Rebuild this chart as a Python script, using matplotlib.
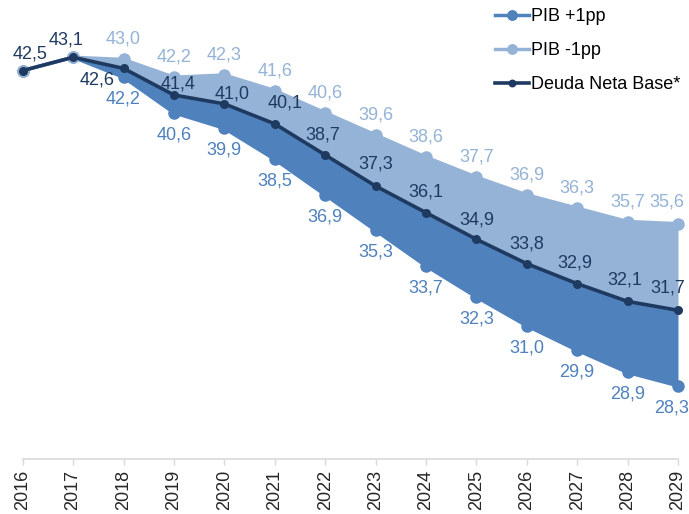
import matplotlib
matplotlib.use("Agg")
import matplotlib.pyplot as plt

plt.rcParams['font.family'] = ['Liberation Sans', 'DejaVu Sans']

years = list(range(2016, 2030))
base = [42.5, 43.1, 42.6, 41.4, 41.0, 40.1, 38.7, 37.3, 36.1, 34.9, 33.8, 32.9, 32.1, 31.7]
pib_up = [42.5, 43.1, 42.2, 40.6, 39.9, 38.5, 36.9, 35.3, 33.7, 32.3, 31.0, 29.9, 28.9, 28.3]
pib_down = [42.5, 43.1, 43.0, 42.2, 42.3, 41.6, 40.6, 39.6, 38.6, 37.7, 36.9, 36.3, 35.7, 35.6]

C_BASE = "#1f3a60"
C_UP = "#4f81bd"
C_DOWN = "#95b3d7"
FS = 13

# label offsets in pixels (dx, dy), picked to match the original layout
base_off = [(7, 17), (-7, 17), (-26, -12), (4, 11), (8, 10), (10, 21), (-2, 20),
            (0, 22), (0, 21), (0, 19), (0, 20), (-2, 21), (-3, 21), (-10, 22)]
down_off = [None, None] + [(0, 20)] * 11 + [(-11, 22)]
up_off = [None, None] + [(0, -22)] * 11 + [(-6, -22)]


def fmt(v):
    return f"{v:.1f}".replace(".", ",")


fig = plt.figure(figsize=(6.89, 5.14), dpi=100)
ax = fig.add_axes([22.7 / 689, 1 - 459 / 514, 655.3 / 689, 459 / 514])

ax.fill_between(years, base, pib_up, color=C_UP, lw=0, zorder=1)
ax.fill_between(years, pib_down, base, color=C_DOWN, lw=0, zorder=1)

ax.plot(years, pib_up, color=C_UP, lw=2.5, marker="o", ms=8,
        label="PIB +1pp", zorder=2, clip_on=False)
ax.plot(years, pib_down, color=C_DOWN, lw=2.5, marker="o", ms=8,
        label="PIB -1pp", zorder=3, clip_on=False)
ax.plot(years, base, color=C_BASE, lw=2.6, marker="o", ms=5.5,
        label="Deuda Neta Base*", zorder=4, clip_on=False)

for x, v, off in zip(years, base, base_off):
    ax.annotate(fmt(v), (x, v), xytext=off, textcoords="offset pixels",
                ha="center", va="center", fontsize=FS, color=C_BASE, zorder=5)
for x, v, off in zip(years, pib_down, down_off):
    if off:
        ax.annotate(fmt(v), (x, v), xytext=off, textcoords="offset pixels",
                    ha="center", va="center", fontsize=FS, color=C_DOWN, zorder=5)
for x, v, off in zip(years, pib_up, up_off):
    if off:
        ax.annotate(fmt(v), (x, v), xytext=off, textcoords="offset pixels",
                    ha="center", va="center", fontsize=FS, color=C_UP, zorder=5)

ax.set_xlim(2016, 2029)
ax.set_ylim(25, 45.68)
ax.set_xticks(years)
ax.set_xticklabels([str(y) for y in years], rotation=90, fontsize=FS, color="#262626")
ax.tick_params(axis="x", length=4, width=1, color="#d9d9d9", pad=4)
ax.set_yticks([])
for s in ["left", "right", "top"]:
    ax.spines[s].set_visible(False)
ax.spines["bottom"].set_color("#d9d9d9")
ax.spines["bottom"].set_linewidth(1.2)
ax.patch.set_alpha(0)

leg = fig.legend(loc="upper left", bbox_to_anchor=(495 / 689, 1 - 8 / 514),
                 frameon=False, fontsize=FS, handlelength=1.9, handletextpad=0.1,
                 labelspacing=0.95, borderpad=0, borderaxespad=0, markerscale=0.85)

fig.savefig("out.png", dpi=100)
